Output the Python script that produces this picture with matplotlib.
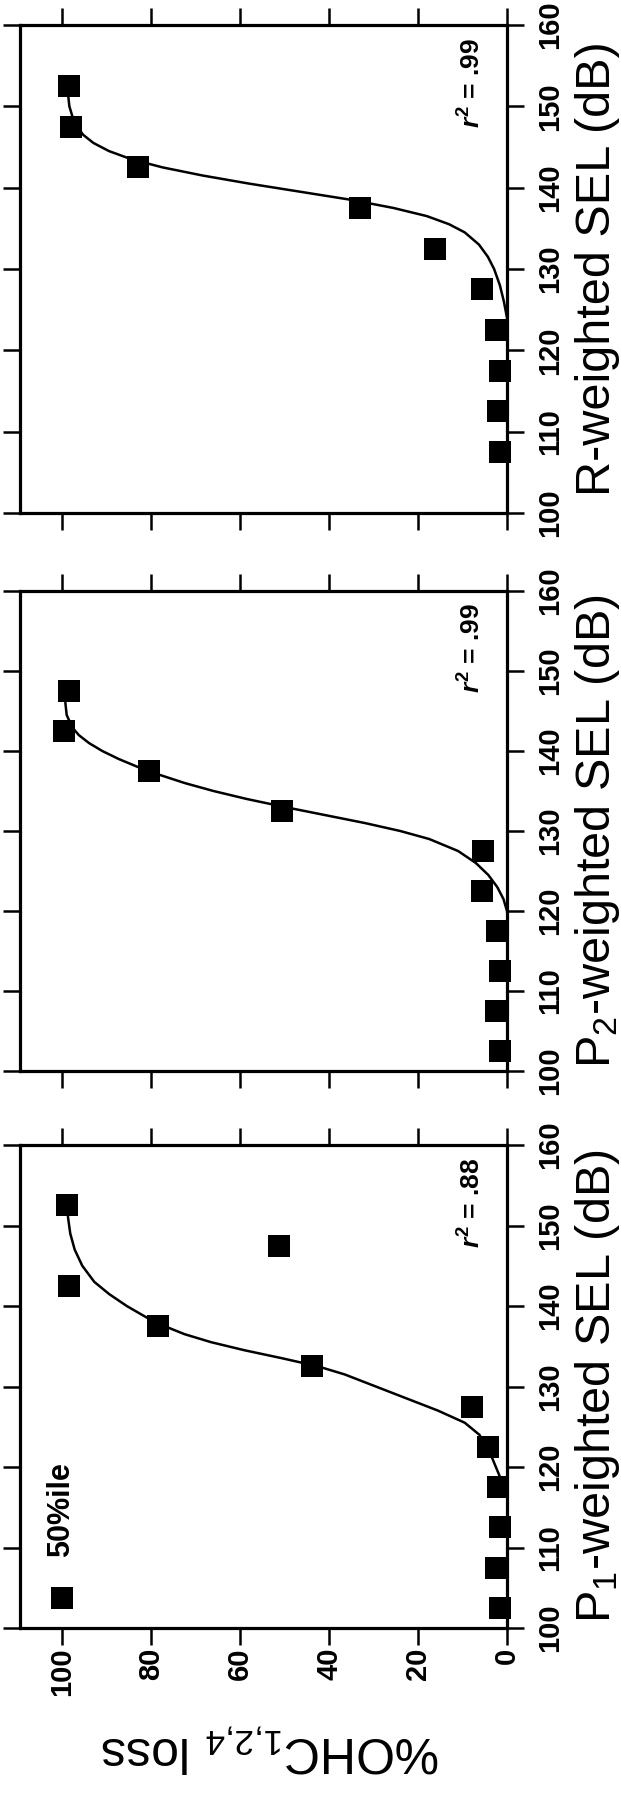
import matplotlib
matplotlib.use('Agg')
import matplotlib.pyplot as plt

plt.rcParams['font.family'] = ['Liberation Sans', 'DejaVu Sans']
plt.rcParams['mathtext.fontset'] = 'custom'
plt.rcParams['mathtext.rm'] = 'Liberation Sans'
plt.rcParams['mathtext.it'] = 'Liberation Sans:italic:bold'
plt.rcParams['mathtext.bf'] = 'Liberation Sans:bold'

# ---------------- data ----------------
loss_ticks = [0, 20, 40, 60, 80, 100]
sel_ticks = [100, 110, 120, 130, 140, 150, 160]

p1_sel = [102.5, 107.5, 112.5, 117.5, 122.5, 127.5, 132.5, 137.5, 142.5, 147.5, 152.5]
p1_loss = [1.6, 2.5, 1.6, 2.0, 4.2, 7.8, 43.9, 78.5, 98.5, 51.2, 98.9]
p1_fit_sel = [118.0, 120.0, 122.0, 124.0, 125.5, 127.0, 128.5, 130.0, 131.5, 132.5,
              133.5, 134.5, 135.5, 136.5, 137.5, 138.5, 140.0, 141.5, 143.0, 145.0,
              147.0, 149.0, 151.0, 152.6]
p1_fit_loss = [1.0, 2.5, 4.0, 6.2, 9.5, 15.5, 22.5, 29.5, 36.5, 42.5,
               50.5, 59.0, 66.5, 72.5, 77.0, 80.8, 85.5, 89.5, 92.8, 95.5,
               97.2, 98.2, 98.7, 98.9]

p2_sel = [102.5, 107.5, 112.5, 117.5, 122.5, 127.5, 132.5, 137.5, 142.5, 147.5]
p2_loss = [1.6, 2.5, 1.6, 2.2, 5.6, 5.4, 50.7, 80.4, 99.7, 98.5]
p2_fit_sel = [120.0, 121.5, 123.0, 124.5, 126.0, 127.5, 129.0, 130.0, 131.0, 132.0,
              133.0, 134.0, 135.0, 136.0, 137.0, 138.0, 139.0, 140.0, 141.0, 142.0,
              143.0, 144.5, 146.0, 147.0]
p2_fit_loss = [0.0, 0.8, 2.2, 4.2, 7.0, 11.0, 17.5, 24.0, 32.0, 41.0,
               50.0, 58.5, 66.0, 72.5, 78.0, 83.0, 87.3, 91.0, 94.0, 96.3,
               97.8, 99.0, 99.3, 99.1]

r_sel = [107.5, 112.5, 117.5, 122.5, 127.5, 132.5, 137.5, 142.5, 147.5, 152.5]
r_loss = [1.5, 2.1, 1.6, 2.4, 5.6, 16.2, 33.0, 83.0, 98.0, 98.5]
r_fit_sel = [124.0, 126.0, 128.0, 130.0, 131.5, 133.0, 134.5, 135.5, 136.5, 137.5,
             138.5, 139.5, 140.5, 141.5, 142.5, 143.5, 144.5, 145.5, 146.5, 148.0,
             150.0, 152.5]
r_fit_loss = [0.0, 0.7, 1.6, 2.9, 4.3, 6.3, 9.5, 13.0, 18.0, 25.5,
              35.0, 46.5, 58.0, 68.5, 77.5, 84.5, 89.5, 93.0, 95.3, 97.3,
              98.4, 98.9]

panel_labels = ['R-weighted SEL (dB)', r'P$_2$-weighted SEL (dB)', r'P$_1$-weighted SEL (dB)']
r2_labels = [r'$r^{\mathbf{2}}$ = .99', r'$r^{\mathbf{2}}$ = .99', r'$r^{\mathbf{2}}$ = .88']
y_label = r'%OHC$_{1{,}2{,}4}$ loss'
legend_label = '50%ile'

# ---------------- layout ----------------
W, H = 621, 1796
fig = plt.figure(figsize=(W / 100, H / 100), dpi=100)
fig.patch.set_facecolor('white')

left_px, right_px = 20, 507
panel_px = [(25, 513), (591, 1071), (1145, 1628)]  # (top, bottom) in pixels

data = [(r_sel, r_loss, r_fit_sel, r_fit_loss),
        (p2_sel, p2_loss, p2_fit_sel, p2_fit_loss),
        (p1_sel, p1_loss, p1_fit_sel, p1_fit_loss)]

for i, ((top, bot), (sel, loss, fsel, floss)) in enumerate(zip(panel_px, data)):
    ax = fig.add_axes([left_px / W, 1 - bot / H, (right_px - left_px) / W, (bot - top) / H])
    ax.set_xlim(109.5, 0)
    ax.set_ylim(100, 160)
    ax.plot(floss, fsel, '-', color='black', lw=1.8, clip_on=False, zorder=3,
            solid_joinstyle='round')
    ax.plot(loss, sel, 's', color='black', ms=15.5, mew=0, clip_on=False, zorder=4)
    ax.set_xticks(loss_ticks)
    ax.set_yticks(sel_ticks)
    for sp in ax.spines.values():
        sp.set_linewidth(2.3)
    is_bottom = (i == 2)
    ax.tick_params(axis='both', which='both', direction='out', length=12, width=1.8,
                   top=True, bottom=True, left=True, right=True, labelsize=21)
    ax.tick_params(axis='x', labelbottom=is_bottom, labeltop=False, labelrotation=90, pad=2)
    ax.tick_params(axis='y', labelleft=False, labelright=True, labelrotation=90, pad=9)
    for lbl in ax.yaxis.get_majorticklabels():
        lbl.set_verticalalignment('center')
        lbl.set_fontweight('bold')
    for lbl in ax.xaxis.get_majorticklabels():
        lbl.set_fontweight('bold')

    ax.text(0.928, 0.881, r2_labels[i], transform=ax.transAxes, rotation=90,
            ha='center', va='center', fontsize=19, fontweight='bold')

    cy = 1 - (top + bot) / 2 / H
    fig.text(610 / W, cy, panel_labels[i], rotation=90, rotation_mode='anchor',
             ha='center', va='baseline', fontsize=35)

    if is_bottom:
        ax.plot([0.0862], [0.0621], 's', color='black', ms=15.5, mew=0,
                transform=ax.transAxes, clip_on=False)
        ax.text(0.084, 0.147, legend_label, transform=ax.transAxes, rotation=90,
                ha='center', va='bottom', fontsize=22, fontweight='bold')

fig.text(270.5 / W, 1 - 1737 / H, y_label, rotation=180, rotation_mode='anchor',
         ha='center', va='baseline', fontsize=36)

fig.savefig('out.png', dpi=100, facecolor='white')
